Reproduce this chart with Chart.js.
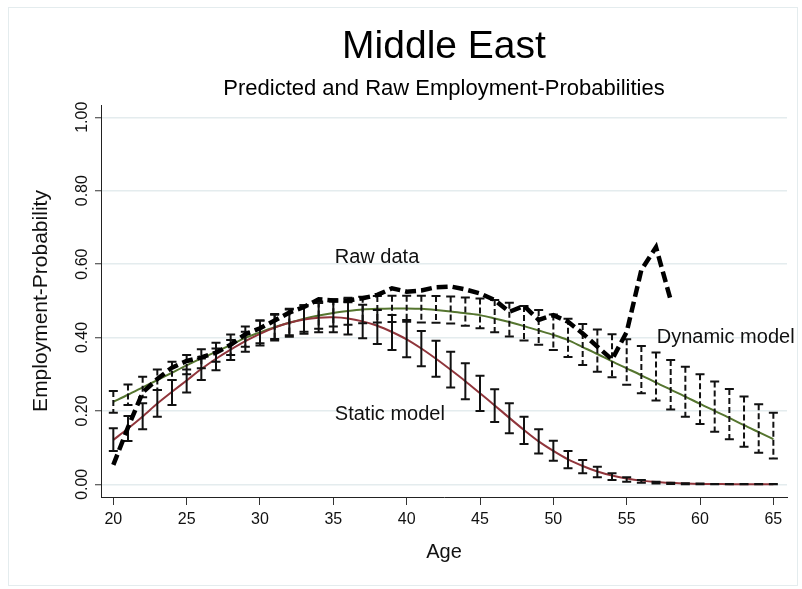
<!DOCTYPE html>
<html>
<head>
<meta charset="utf-8">
<title>Middle East</title>
<script src="https://cdn.jsdelivr.net/npm/chart.js@4.4.0/dist/chart.umd.min.js"></script>
<style>
    html, body { margin: 0; padding: 0; background: #fff; }
    #wrap { position: relative; width: 802px; height: 589px; }
</style>
</head>
<body>
<div id="wrap"><canvas id="chart"></canvas></div>
<script>
// Ages on the x axis
const ages = [20, 21, 22, 23, 24, 25, 26, 27, 28, 29, 30, 31, 32, 33, 34, 35, 36, 37, 38, 39,
    40, 41, 42, 43, 44, 45, 46, 47, 48, 49, 50, 51, 52, 53, 54, 55, 56, 57, 58, 59,
    60, 61, 62, 63, 64, 65];
const rawAges = [20, 21, 22, 23, 24, 25, 26, 27, 28, 29, 30, 31, 32, 33, 34, 35, 36, 37, 38, 39,
    40, 41, 42, 43, 44, 45, 46, 47, 48, 49, 50, 51, 52, 53, 54, 55, 56, 57, 58];

// Static model: fitted line and interval ends
const staticFit = [0.121, 0.152, 0.185, 0.220, 0.252, 0.283, 0.314, 0.342, 0.367, 0.390,
    0.410, 0.427, 0.440, 0.449, 0.454, 0.455, 0.452, 0.444, 0.432, 0.415,
    0.395, 0.370, 0.342, 0.312, 0.281, 0.248, 0.215, 0.181, 0.148, 0.117,
    0.091, 0.068, 0.050, 0.035, 0.024, 0.016, 0.010, 0.006, 0.004, 0.002,
    0.001, 0.001, 0.000, 0.000, 0.000, 0.000];
const staticHi = [0.153, 0.186, 0.221, 0.257, 0.284, 0.313, 0.343, 0.370, 0.393, 0.416,
    0.446, 0.464, 0.478, 0.488, 0.494, 0.498, 0.496, 0.489, 0.475, 0.461,
    0.448, 0.418, 0.391, 0.361, 0.330, 0.296, 0.259, 0.221, 0.184, 0.150,
    0.119, 0.091, 0.066, 0.048, 0.030, 0.019, 0.012, 0.007, 0.004, 0.003,
    0.002, 0.001, 0.001, 0.001, 0.001, 0.001];
const staticLo = [0.091, 0.118, 0.150, 0.184, 0.216, 0.250, 0.284, 0.311, 0.339, 0.361,
    0.378, 0.392, 0.402, 0.410, 0.414, 0.414, 0.408, 0.398, 0.382, 0.366,
    0.346, 0.322, 0.293, 0.264, 0.232, 0.200, 0.170, 0.139, 0.110, 0.084,
    0.064, 0.044, 0.030, 0.019, 0.012, 0.007, 0.004, 0.002, 0.001, 0.000,
    0.000, 0.000, 0.000, 0.000, 0.000, 0.000];

// Dynamic model: fitted line and interval ends
const dynFit = [0.225, 0.244, 0.264, 0.284, 0.304, 0.324, 0.343, 0.361, 0.380, 0.399,
    0.414, 0.428, 0.440, 0.451, 0.460, 0.467, 0.472, 0.476, 0.478, 0.479,
    0.479, 0.478, 0.475, 0.471, 0.466, 0.461, 0.452, 0.442, 0.431, 0.419,
    0.407, 0.393, 0.374, 0.355, 0.335, 0.316, 0.297, 0.277, 0.258, 0.239,
    0.219, 0.200, 0.181, 0.161, 0.142, 0.123];
const dynHi = [0.254, 0.272, 0.293, 0.313, 0.334, 0.352, 0.368, 0.386, 0.408, 0.430,
    0.446, 0.462, 0.476, 0.488, 0.498, 0.504, 0.508, 0.511, 0.513, 0.514,
    0.514, 0.514, 0.513, 0.512, 0.509, 0.506, 0.502, 0.495, 0.486, 0.475,
    0.463, 0.451, 0.437, 0.422, 0.409, 0.395, 0.377, 0.359, 0.339, 0.320,
    0.300, 0.280, 0.260, 0.239, 0.218, 0.195];
const dynLo = [0.195, 0.216, 0.237, 0.257, 0.284, 0.300, 0.316, 0.334, 0.352, 0.375,
    0.384, 0.396, 0.406, 0.416, 0.424, 0.430, 0.435, 0.439, 0.441, 0.442,
    0.443, 0.441, 0.440, 0.438, 0.432, 0.425, 0.414, 0.403, 0.392, 0.380,
    0.366, 0.347, 0.325, 0.307, 0.292, 0.271, 0.248, 0.228, 0.204, 0.184,
    0.164, 0.143, 0.123, 0.102, 0.086, 0.070];

// Raw employment shares
const rawData = [0.053, 0.155, 0.250, 0.287, 0.318, 0.336, 0.346, 0.359, 0.380, 0.409,
    0.425, 0.446, 0.468, 0.483, 0.504, 0.501, 0.501, 0.507, 0.516, 0.534,
    0.525, 0.528, 0.537, 0.539, 0.531, 0.520, 0.502, 0.470, 0.486, 0.448,
    0.461, 0.443, 0.411, 0.375, 0.340, 0.415, 0.584, 0.646, 0.502];

// Ticks
const xTicks = [20, 25, 30, 35, 40, 45, 50, 55, 60, 65];
const yTicks = [0, 0.2, 0.4, 0.6, 0.8, 1.0];

// Text labels inside the plot: [text, age, probability]
const notes = [
    ['Raw data', 35.1, 0.617],
    ['Static model', 35.1, 0.189],
    ['Dynamic model', 57.05, 0.399]
];

const FONT = "'Liberation Sans', Arial, Helvetica, sans-serif";
const INK = '#111';

const toXY = (xs, ys) => xs.map((x, i) => ({ x: x, y: ys[i] }));

/**
 * Capped range bars for both models, drawn once the model lines are down
 */
const rangeBars = {
    id: 'rangeBars',
    afterDatasetDraw(chart, args) {
        if (args.index !== 1) return;
        const { ctx, scales: { x, y } } = chart;
        const cap = 4.5;

        const drawSet = (lo, hi, dash) => {
            ages.forEach((a, i) => {
                const px = x.getPixelForValue(a);
                const top = y.getPixelForValue(hi[i]);
                const bot = y.getPixelForValue(lo[i]);
                ctx.setLineDash(dash);
                ctx.beginPath();
                ctx.moveTo(px, top);
                ctx.lineTo(px, bot);
                ctx.stroke();
                ctx.setLineDash([]);
                ctx.beginPath();
                ctx.moveTo(px - cap, top);
                ctx.lineTo(px + cap, top);
                ctx.moveTo(px - cap, bot);
                ctx.lineTo(px + cap, bot);
                ctx.stroke();
            });
        };

        ctx.save();
        ctx.strokeStyle = INK;
        ctx.lineWidth = 2;
        drawSet(dynLo, dynHi, [6, 3]);
        drawSet(staticLo, staticHi, []);
        ctx.restore();
    }
};

/**
 * Vertical y tick labels, outer frame and plot notes
 */
const decorations = {
    id: 'decorations',
    beforeDraw(chart) {
        const ctx = chart.ctx;
        ctx.save();
        ctx.strokeStyle = '#e4ecee';
        ctx.lineWidth = 1;
        ctx.strokeRect(8.5, 7.5, 789, 578);
        ctx.restore();
    },
    afterDraw(chart) {
        const { ctx, scales: { x, y } } = chart;
        ctx.save();
        ctx.fillStyle = INK;
        ctx.font = '16px ' + FONT;
        ctx.textAlign = 'center';
        ctx.textBaseline = 'alphabetic';
        yTicks.forEach(v => {
            ctx.save();
            ctx.translate(87, y.getPixelForValue(v));
            ctx.rotate(-Math.PI / 2);
            ctx.fillText(v.toFixed(2), 0, 0);
            ctx.restore();
        });

        ctx.font = '20px ' + FONT;
        ctx.textAlign = 'left';
        ctx.textBaseline = 'middle';
        notes.forEach(([text, a, p]) => {
            ctx.fillText(text, x.getPixelForValue(a), y.getPixelForValue(p));
        });
        ctx.restore();
    }
};

const ctx = document.getElementById('chart');

new Chart(ctx, {
    type: 'line',
    data: {
        datasets: [
            {
                label: 'Raw data',
                data: toXY(rawAges, rawData),
                borderColor: '#000',
                borderWidth: 4.5,
                borderDash: [11, 5],
                pointRadius: 0,
                tension: 0,
                fill: false
            },
            {
                label: 'Static model',
                data: toXY(ages, staticFit),
                borderColor: '#90353b',
                borderWidth: 2,
                pointRadius: 0,
                tension: 0.3,
                fill: false
            },
            {
                label: 'Dynamic model',
                data: toXY(ages, dynFit),
                borderColor: '#55752f',
                borderWidth: 2,
                pointRadius: 0,
                tension: 0.3,
                fill: false
            }
        ]
    },
    options: {
        responsive: true,
        maintainAspectRatio: false,
        animation: false,
        devicePixelRatio: 1,
        layout: {
            padding: { left: 0, right: 15, top: 0, bottom: 0 }
        },
        plugins: {
            legend: { display: false },
            tooltip: { enabled: false },
            title: {
                display: true,
                text: 'Middle East',
                fullSize: false,
                color: '#000',
                font: { family: FONT, size: 39, weight: 'normal' },
                padding: { top: 23.6, bottom: 5.4 }
            },
            subtitle: {
                display: true,
                text: 'Predicted and Raw Employment-Probabilities',
                fullSize: false,
                color: '#000',
                font: { family: FONT, size: 22, weight: 'normal' },
                padding: { top: 0, bottom: 2.8 }
            }
        },
        scales: {
            x: {
                type: 'linear',
                min: 19.16,
                max: 65.93,
                afterBuildTicks: scale => {
                    scale.ticks = xTicks.map(v => ({ value: v }));
                },
                afterFit: scale => {
                    scale.height = 92;
                },
                ticks: {
                    color: INK,
                    padding: 5,
                    maxRotation: 0,
                    autoSkip: false,
                    font: { family: FONT, size: 16 }
                },
                grid: {
                    drawOnChartArea: false,
                    drawTicks: true,
                    tickLength: 8,
                    tickColor: '#333',
                    tickWidth: 1
                },
                border: { display: true, color: '#222', width: 1 },
                title: {
                    display: true,
                    text: 'Age',
                    color: INK,
                    font: { family: FONT, size: 20 },
                    padding: { top: 0, bottom: 25 }
                }
            },
            y: {
                min: -0.0346,
                max: 1.0335,
                afterBuildTicks: scale => {
                    scale.ticks = yTicks.map(v => ({ value: v }));
                },
                afterFit: scale => {
                    scale.width = 101;
                },
                ticks: { display: false },
                grid: {
                    color: '#e4ecee',
                    lineWidth: 1.5,
                    drawTicks: true,
                    tickLength: 6,
                    tickColor: '#333',
                    tickWidth: 1
                },
                border: { display: true, color: '#222', width: 1 },
                title: {
                    display: true,
                    text: 'Employment-Probability',
                    color: INK,
                    font: { family: FONT, size: 21 },
                    padding: { top: 29, bottom: 0 }
                }
            }
        }
    },
    plugins: [rangeBars, decorations]
});
</script>
</body>
</html>
